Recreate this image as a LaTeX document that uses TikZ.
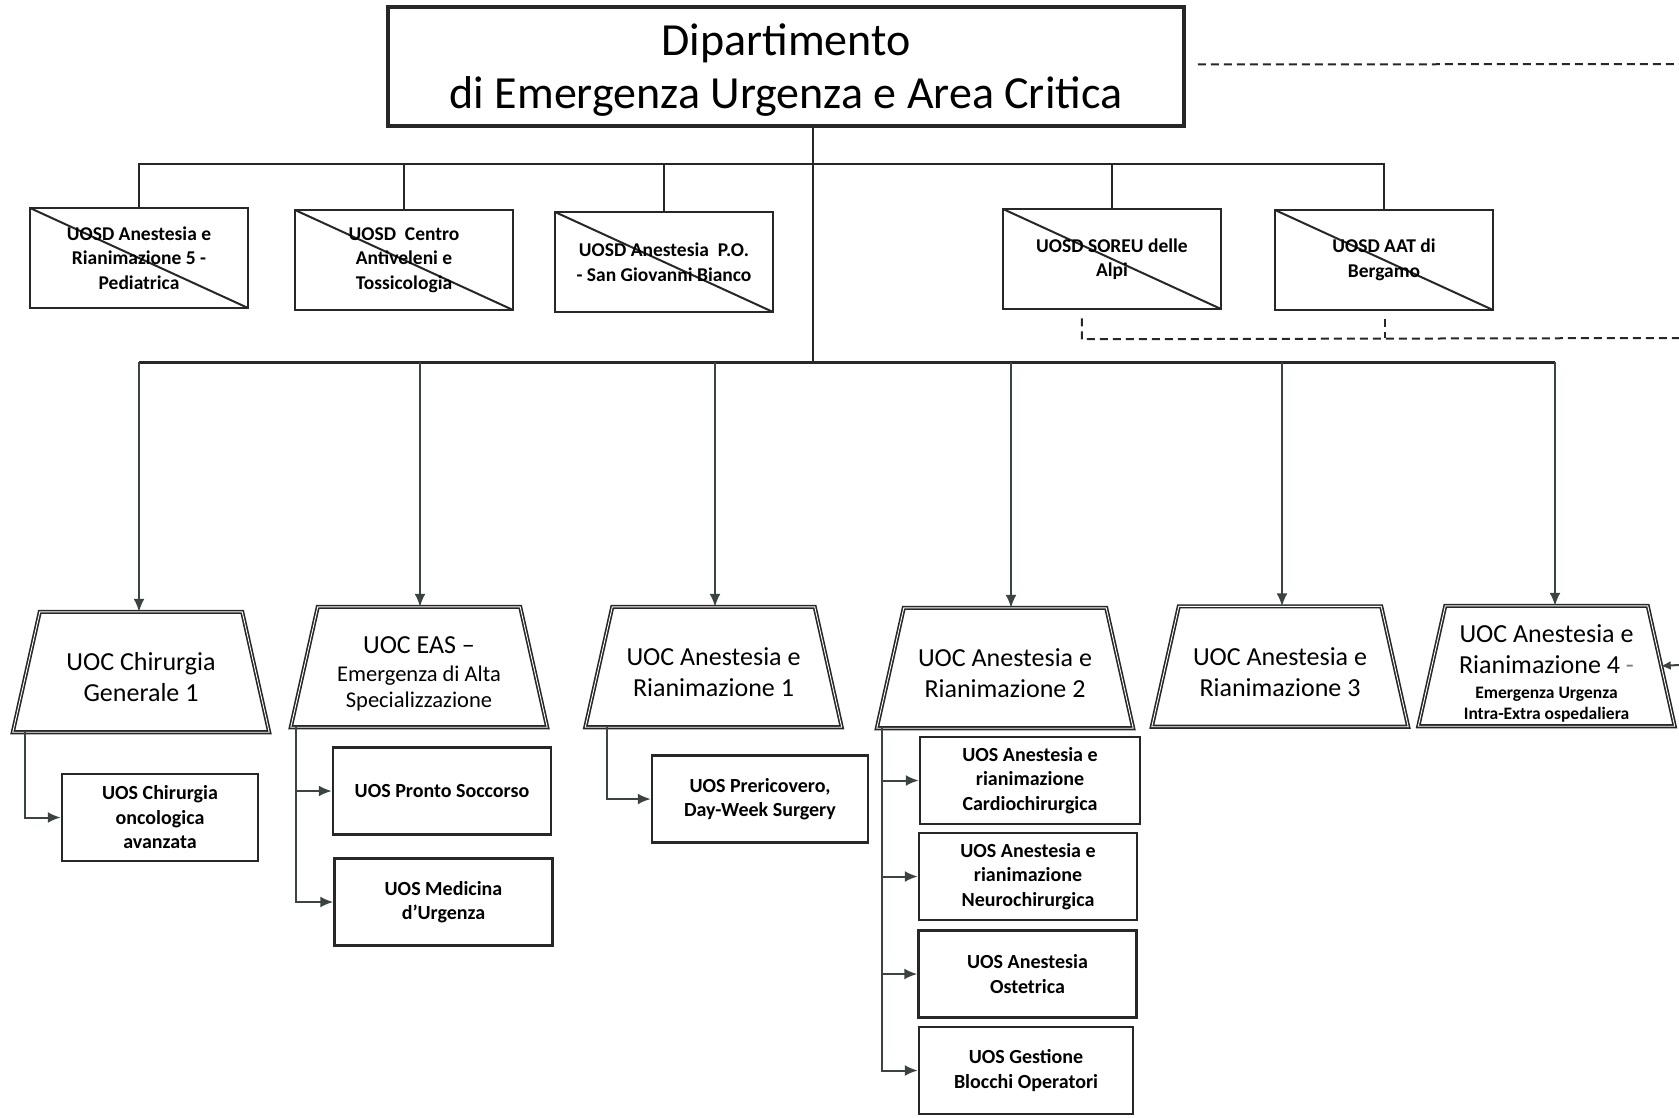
\documentclass[tikz,border=0pt]{standalone}
\usepackage{fontspec}
\setmainfont{Carlito}
\usetikzlibrary{arrows.meta,calc}
\definecolor{ink}{RGB}{38,40,40}
\definecolor{ln}{RGB}{58,68,64}
\begin{document}
\begin{tikzpicture}[x=1pt,y=-1pt,
  titlebox/.style={draw=ink,line width=3.5pt,minimum width=796pt,minimum height=119pt,inner sep=0pt,align=center,font=\fontsize{46}{53}\selectfont},
  crossbox/.style={draw=ink,line width=2.5pt,minimum width=218pt,minimum height=100pt,inner sep=0pt,align=center,
    font=\fontsize{19.5}{24.5}\selectfont\bfseries,
    path picture={\draw[ink,line width=2pt] (path picture bounding box.north west)--(path picture bounding box.south east);}},
  uocframe/.style={minimum width=256pt,minimum height=120pt,inner sep=0pt},
  uoctext/.style={inner sep=0pt,align=center,font=\fontsize{26}{31}\selectfont},
  trapline/.style={draw=ink,line width=1.6pt,double=white,double distance=0.9pt,line join=miter},
  uos/.style={draw=ink,line width=2.5pt,minimum width=218pt,minimum height=87pt,inner sep=0pt,align=center,
    font=\fontsize{20}{24.5}\selectfont\bfseries},
  conn/.style={draw=ln,line width=2pt},
  bus/.style={draw=ink,line width=2.5pt},
  arr/.style={conn,-{Latex[length=13pt,width=11pt]}},
  dsh/.style={draw=ink,line width=2pt,dash pattern=on 8pt off 5pt}
]
\useasboundingbox (0,0) rectangle (1679,1118);

% title
\node[titlebox] (title) at (786,66.5) {\rule{0pt}{39pt}Dipartimento\\di Emergenza Urgenza e Area Critica};

% crossed-out UOSD boxes
\node[crossbox] (b1) at (139,258) {UOSD Anestesia e\\Rianimazione 5 -\\Pediatrica};
\node[crossbox] (b2) at (404,260) {UOSD\ \ Centro\\Antiveleni e\\Tossicologia};
\node[crossbox] (b3) at (664,262) {UOSD Anestesia\ \ P.O.\\- San Giovanni Bianco};
\node[crossbox] (b4) at (1112,259) {UOSD SOREU delle\\Alpi};
\node[crossbox] (b5) at (1384,260) {UOSD AAT di\\Bergamo};

% UOC trapezoid frames (invisible rectangles) and their outlines
\node[uocframe] (t1) at (141,672) {};
\node[uocframe] (t2) at (419,667) {};
\node[uocframe] (t3) at (713.5,667) {};
\node[uocframe] (t4) at (1005,668) {};
\node[uocframe] (t5) at (1280,666.5) {};
\node[uocframe] (t6) at (1546.5,666) {};
\foreach \t in {t1,t2,t3,t4,t5,t6}{
  \draw[trapline] (\t.south west) -- ($(\t.north west)+(27,0)$) -- ($(\t.north east)+(-27,0)$) -- (\t.south east) -- cycle;
}
\node[uoctext] (t1x) at ($(t1)+(0,5)$) {UOC Chirurgia\\Generale 1};
\node[uoctext] (t2x) at ($(t2)+(0,7)$) {UOC EAS –\\[-3pt]{\fontsize{22.5}{26}\selectfont Emergenza di Alta}\\[-5pt]{\fontsize{22.5}{26}\selectfont Specializzazione}};
\node[uoctext] (t3x) at ($(t3)+(0,5.5)$) {UOC Anestesia e\\Rianimazione 1};
\node[uoctext] (t4x) at ($(t4)+(0,5)$) {UOC Anestesia e\\Rianimazione 2};
\node[uoctext] (t5x) at ($(t5)+(0,6)$) {UOC Anestesia e\\Rianimazione 3};
\node[uoctext] (t6x) at ($(t6)+(0,7)$) {UOC Anestesia e\\Rianimazione 4 {\color{gray}-}\\[-6pt]{\bfseries\fontsize{17.5}{21}\selectfont Emergenza Urgenza}\\[-10pt]{\bfseries\fontsize{17.5}{21}\selectfont Intra-Extra ospedaliera}};

% UOS boxes
\node[uos,minimum width=196pt] (c1) at (160,817.5) {UOS Chirurgia\\oncologica\\avanzata};
\node[uos] (p1) at (442,791) {UOS Pronto Soccorso};
\node[uos] (p2) at (443.5,902) {UOS Medicina\\d'Urgenza};
\node[uos,minimum width=216pt] (r1) at (760,799) {UOS Prericovero,\\Day-Week Surgery};
\node[uos,minimum width=220pt] (a1) at (1030,780.5) {UOS Anestesia e\\rianimazione\\Cardiochirurgica};
\node[uos] (a2) at (1028,876.5) {UOS Anestesia e\\rianimazione\\Neurochirurgica};
\node[uos] (a3) at (1027.5,974) {UOS Anestesia\\Ostetrica};
\node[uos,minimum width=214pt] (a4) at (1026,1070.5) {UOS Gestione\\Blocchi Operatori};

% hub coordinates
\coordinate (bus1) at (813,164);
\coordinate (hub) at (813,362);
\coordinate (d1) at (139,362);
\coordinate (d2) at (420,362);
\coordinate (d3) at (715,362);
\coordinate (d4) at (1011,362);
\coordinate (d5) at (1282,362);
\coordinate (d6) at (1555,362);

% title stem and upper bus
\draw[bus] (title.south -| hub) -- (hub);
\draw[bus] (b1.north) -- (b1.north |- bus1) -- (b5.north |- bus1) -- (b5.north);
\draw[bus] (b2.north) -- (b2.north |- bus1);
\draw[bus] (b3.north) -- (b3.north |- bus1);
\draw[bus] (b4.north) -- (b4.north |- bus1);

% lower bus and drops
\draw[bus,line width=3pt] (d1) -- (d6);
\foreach \d/\t in {d1/t1,d2/t2,d3/t3,d4/t4,d5/t5,d6/t6}{
  \draw[arr] (\d) -- (\d |- \t.north);
}

% children
\draw[arr] ($(t1.south west)+(12,0)$) |- (c1.west);
\draw[arr] ($(t2.south west)+(5,0)$) |- (p1.west);
\draw[arr] ($(t2.south west)+(5,0)$) |- (p2.west);
\draw[arr] ($(t3.south west)+(22,0)$) |- (r1.west);
\foreach \c in {a1,a2,a3,a4}{
  \draw[arr] ($(t4.south west)+(5,0)$) |- (\c.west);
}

% dashed relations
\coordinate (edgeA) at (1679,64);
\coordinate (edgeB) at (1679,338);
\coordinate (edgeC) at (1679,665);
\draw[dsh] ($(title.east)+(12,-2)$) -- (edgeA);
\draw[dsh] ($(b4.south west)+(80,8)$) -- ($(b4.south west)+(80,29)$) -- (edgeB);
\draw[dsh] ($(b5.south)+(1,8)$) -- ($(b5.south)+(1,27)$);
\draw[arr,-{Latex[length=10pt,width=9pt]}] (edgeC) -- ($(t6.east)+(-14,0)$);
\end{tikzpicture}
\end{document}
